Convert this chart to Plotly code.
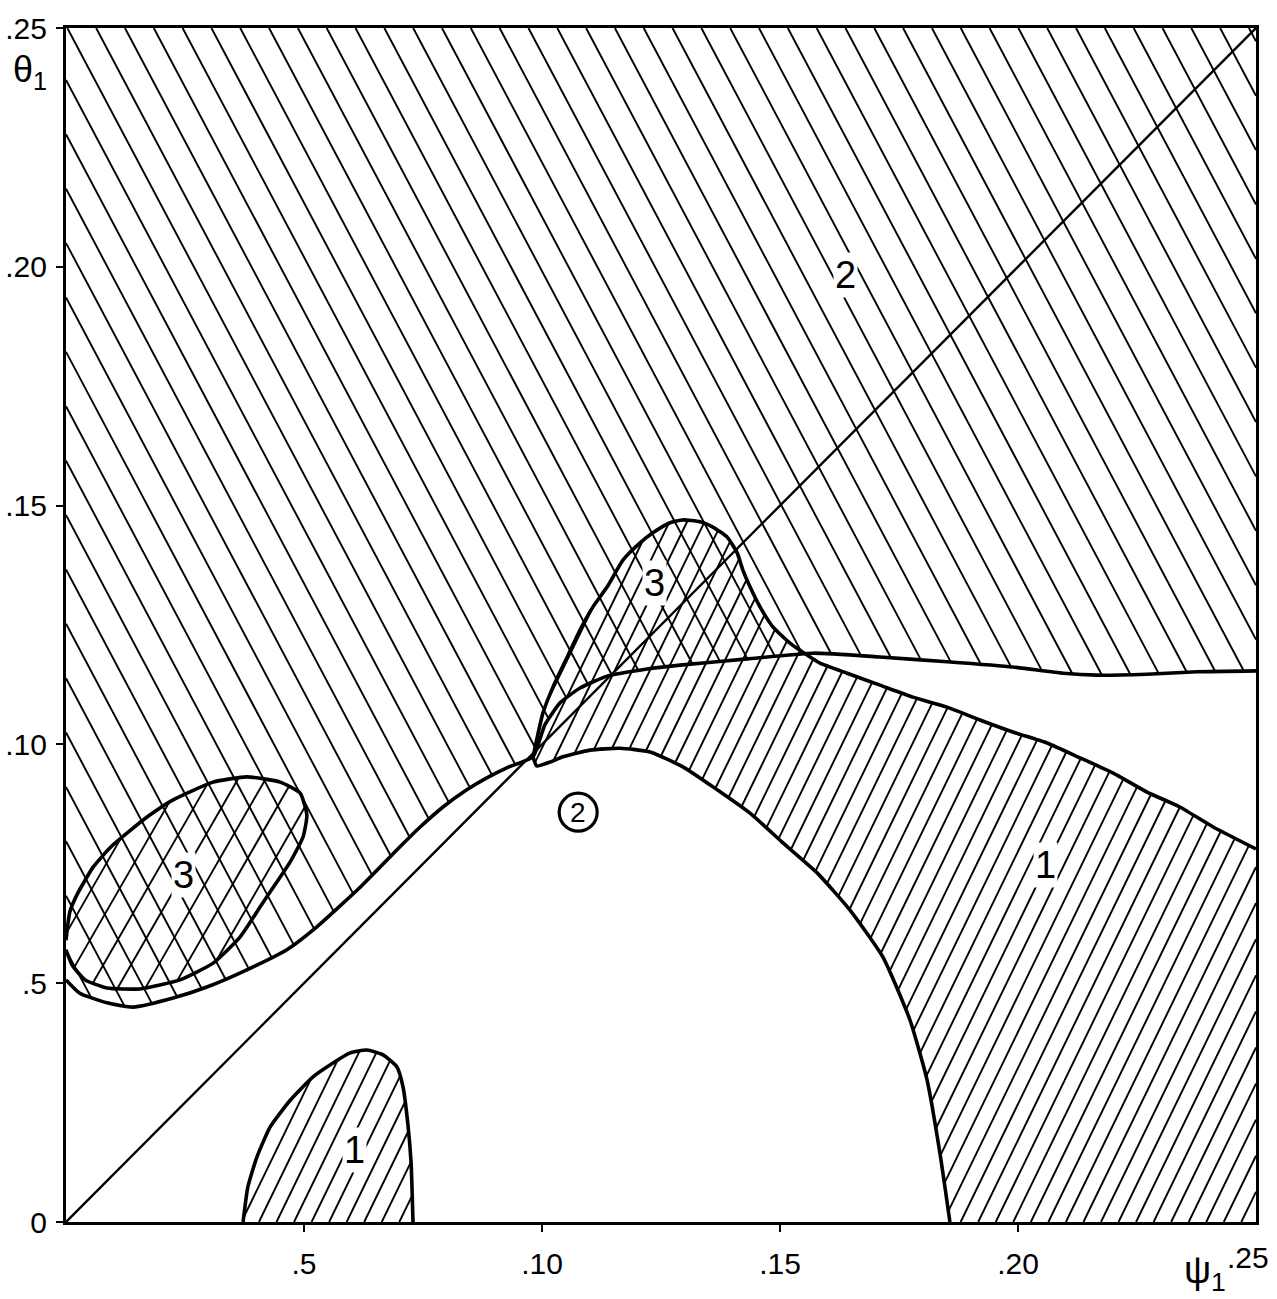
import numpy as np
import plotly.graph_objects as go

# ---- boundary curves, (psi_1, theta_1) pairs ----
# lower edge of region 2, from the theta axis to the cusp
edge2_left_psi = [0.0, 0.0029, 0.0086, 0.0141, 0.0225, 0.0296, 0.0380, 0.0464, 0.0527,
                  0.0618, 0.0695, 0.0744, 0.0792, 0.0842, 0.0884, 0.0926, 0.0981]
edge2_left_theta = [0.0507, 0.0479, 0.0459, 0.0450, 0.0469, 0.0492, 0.0528, 0.0570, 0.0618,
                    0.0701, 0.0779, 0.0827, 0.0869, 0.0905, 0.0930, 0.0951, 0.0974]
# lower edge of region 2, from the cusp to the right border
edge2_right_psi = [0.0981, 0.1006, 0.1038, 0.1080, 0.1137, 0.1221, 0.1290, 0.1431, 0.1569,
                   0.1710, 0.1851, 0.1989, 0.2095, 0.2166, 0.2271, 0.2376, 0.25]
edge2_right_theta = [0.0974, 0.1041, 0.1087, 0.1118, 0.1143, 0.1158, 0.1166, 0.1179, 0.1191,
                     0.1183, 0.1173, 0.1162, 0.1149, 0.1145, 0.1147, 0.1152, 0.1154]
# outline of the lobe above the cusp (upper edge of region 1)
lobe_psi = [0.0981, 0.0992, 0.1002, 0.1023, 0.1053, 0.1080, 0.1107, 0.1137, 0.1170, 0.1206,
            0.1233, 0.1269, 0.1296, 0.1332, 0.1359, 0.1389, 0.1410, 0.1422, 0.1437, 0.1458,
            0.1485, 0.1521, 0.1557]
lobe_theta = [0.0974, 0.1024, 0.1066, 0.1120, 0.1183, 0.1240, 0.1288, 0.1330, 0.1386, 0.1422,
              0.1443, 0.1464, 0.1470, 0.1466, 0.1455, 0.1434, 0.1401, 0.1365, 0.1330, 0.1288,
              0.1246, 0.1212, 0.1187]
# upper edge of the region-1 band, right of the lobe
band_top_psi = [0.1557, 0.1584, 0.1641, 0.1710, 0.1779, 0.1851, 0.1920, 0.1989, 0.2061,
                0.2130, 0.2200, 0.2271, 0.2340, 0.2410, 0.25]
band_top_theta = [0.1187, 0.1170, 0.1149, 0.1124, 0.1099, 0.1078, 0.1051, 0.1026, 0.1003,
                  0.0972, 0.0940, 0.0900, 0.0869, 0.0827, 0.0781]
# lower edge of the region-1 band
band_bot_psi = [0.0981, 0.0989, 0.1017, 0.1044, 0.1101, 0.1164, 0.1227, 0.1296, 0.1368,
                0.1437, 0.1506, 0.1578, 0.1647, 0.1716, 0.1773, 0.1809, 0.1836, 0.1857]
band_bot_theta = [0.0974, 0.0955, 0.0963, 0.0974, 0.0988, 0.0992, 0.0984, 0.0953, 0.0905,
                  0.0856, 0.0794, 0.0731, 0.0653, 0.0555, 0.0423, 0.0297, 0.0144, 0.0]
# small region-1 island on the psi axis
bump_psi = [0.0372, 0.0382, 0.0401, 0.0429, 0.0471, 0.0519, 0.0561, 0.0597, 0.0632, 0.0666,
            0.0695, 0.0708, 0.0718, 0.0725, 0.0729]
bump_theta = [0.0, 0.0073, 0.0136, 0.0199, 0.0255, 0.0304, 0.0333, 0.0354, 0.0360, 0.0350,
              0.0325, 0.0283, 0.0207, 0.0124, 0.0]
# oval region 3 on the theta axis
oval_psi = [0.0, 0.0008, 0.0025, 0.0057, 0.0092, 0.0128, 0.0176, 0.0225, 0.0309, 0.0380,
            0.0450, 0.0492, 0.0506, 0.0498, 0.0471, 0.0439, 0.0408, 0.0366, 0.0309, 0.0239,
            0.0155, 0.0086, 0.0040, 0.0013, 0.0]
oval_theta = [0.0590, 0.0649, 0.0689, 0.0743, 0.0783, 0.0814, 0.0852, 0.0884, 0.0921, 0.0932,
              0.0921, 0.0898, 0.0852, 0.0806, 0.0754, 0.0706, 0.0660, 0.0597, 0.0542, 0.0507,
              0.0488, 0.0490, 0.0507, 0.0538, 0.0570]
# the line psi_1 = theta_1
diag_psi = [0.0, 0.25]
diag_theta = [0.0, 0.25]

# ---- region labels ----
label_text = ["2", "1", "1", "3", "3"]
label_psi = [0.1637, 0.2057, 0.0607, 0.0246, 0.1237]
label_theta = [0.1983, 0.0747, 0.0151, 0.0727, 0.1338]
circled_text = "2"
circled_psi = 0.1076
circled_theta = 0.0858

# ---- axis ticks ----
x_tickvals = [0.05, 0.10, 0.15, 0.20]
x_ticktext = [".5", ".10", ".15", ".20"]
y_tickvals = [0.0, 0.05, 0.10, 0.15, 0.20, 0.25]
y_ticktext = ["0", ".5", ".10", ".15", ".20", ".25"]

FONT = "Liberation Sans"


def hatch(px, py, angle_deg, spacing):
    """Clip a family of parallel lines to a closed polygon."""
    a = np.radians(angle_deg)
    d = np.array([np.cos(a), np.sin(a)])
    n = np.array([-np.sin(a), np.cos(a)])
    P = np.column_stack([px, py]).astype(float)
    if not np.allclose(P[0], P[-1]):
        P = np.vstack([P, P[0]])
    proj = P @ n
    xs, ys = [], []
    for k in range(int(np.ceil(proj.min() / spacing)), int(np.floor(proj.max() / spacing)) + 1):
        c = k * spacing
        hits = []
        for i in range(len(P) - 1):
            a0, a1 = proj[i] - c, proj[i + 1] - c
            if (a0 < 0) != (a1 < 0):
                t = a0 / (a0 - a1)
                q = P[i] + t * (P[i + 1] - P[i])
                hits.append((q @ d, q))
        hits.sort(key=lambda h: h[0])
        for j in range(0, len(hits) - 1, 2):
            xs += [hits[j][1][0], hits[j + 1][1][0], None]
            ys += [hits[j][1][1], hits[j + 1][1][1], None]
    return xs, ys


# polygons of the hatched regions
edge2_psi = edge2_left_psi + edge2_right_psi[1:]
edge2_theta = edge2_left_theta + edge2_right_theta[1:]
region2_psi = [0.0, 0.25] + edge2_psi[::-1]
region2_theta = [0.25, 0.25] + edge2_theta[::-1]

region1_psi = lobe_psi + band_top_psi[1:] + [0.25] + band_bot_psi[::-1]
region1_theta = lobe_theta + band_top_theta[1:] + [0.0] + band_bot_theta[::-1]

fig = go.Figure()


def add_lines(x, y, width):
    fig.add_trace(go.Scatter(x=x, y=y, mode="lines", line=dict(color="black", width=width),
                             hoverinfo="skip", showlegend=False))


def add_curve(x, y, width=3.6):
    fig.add_trace(go.Scatter(x=x, y=y, mode="lines",
                             line=dict(color="black", width=width, shape="spline", smoothing=0.5),
                             hoverinfo="skip", showlegend=False))


PX = 1.0 / 4770.0  # one screen pixel in axis units
HW = 1.9           # hatch stroke width

# region 2: steep back-slash hatching
hx, hy = hatch(region2_psi, region2_theta, -62, 25.5 * PX)
add_lines(hx, hy, HW)
# region 1 band and lobe: dense forward-slash hatching
hx, hy = hatch(region1_psi, region1_theta, 64, 15.8 * PX)
add_lines(hx, hy, HW)
# island on the psi axis
hx, hy = hatch(bump_psi, bump_theta, 64, 15.8 * PX)
add_lines(hx, hy, HW)
# oval: wider forward-slash hatching (cross-hatched with region 2)
hx, hy = hatch(oval_psi, oval_theta, 60, 24.0 * PX)
add_lines(hx, hy, HW)

# diagonal
add_lines(diag_psi, diag_theta, 2.4)

# boundaries
add_curve(edge2_psi, edge2_theta)
add_curve(lobe_psi + band_top_psi[1:], lobe_theta + band_top_theta[1:])
add_curve(band_bot_psi, band_bot_theta)
add_curve(bump_psi, bump_theta)
add_curve(oval_psi, oval_theta)

# circled label
fig.add_trace(go.Scatter(x=[circled_psi], y=[circled_theta], mode="markers",
                         marker=dict(symbol="circle-open", size=38, color="black",
                                     line=dict(width=3.2, color="black")),
                         hoverinfo="skip", showlegend=False))

annotations = []
for t, xv, yv in zip(label_text, label_psi, label_theta):
    annotations.append(dict(x=xv, y=yv, xref="x", yref="y", text=t, showarrow=False,
                            xanchor="center", yanchor="middle",
                            font=dict(family=FONT, size=38, color="black"),
                            bgcolor="white", borderpad=1))
annotations.append(dict(x=circled_psi, y=circled_theta, xref="x", yref="y",
                        text=circled_text, showarrow=False,
                        xanchor="center", yanchor="middle",
                        font=dict(family=FONT, size=28, color="black")))

# axis names and the corner tick label
annotations.append(dict(x=-0.030, y=0.963, xref="paper", yref="paper",
                        xanchor="center", yanchor="middle",
                        text="θ<sub>1</sub>", showarrow=False,
                        font=dict(family=FONT, size=36, color="black")))
annotations.append(dict(x=0.957, y=-0.043, xref="paper", yref="paper",
                        xanchor="center", yanchor="middle",
                        text="ψ<sub>1</sub>", showarrow=False,
                        font=dict(family=FONT, size=38, color="black")))
annotations.append(dict(x=0.993, y=-0.030, xref="paper", yref="paper",
                        xanchor="center", yanchor="middle",
                        text=".25", showarrow=False,
                        font=dict(family=FONT, size=30, color="black")))

axis_common = dict(showline=True, linecolor="black", linewidth=3, mirror=True,
                   ticks="outside", ticklen=7, tickwidth=2, tickcolor="black",
                   showgrid=False, zeroline=False, automargin=False,
                   tickfont=dict(family=FONT, size=30, color="black"))

fig.update_layout(
    width=1277, height=1299,
    margin=dict(l=66, r=21, t=28, b=77),
    paper_bgcolor="white", plot_bgcolor="white",
    xaxis=dict(range=[0, 0.25], tickvals=x_tickvals, ticktext=x_ticktext,
               ticklabelstandoff=6, **axis_common),
    yaxis=dict(range=[0, 0.25], tickvals=y_tickvals, ticktext=y_ticktext,
               ticklabelstandoff=3, **axis_common),
    annotations=annotations,
    showlegend=False,
)

fig.write_html("out.html")
